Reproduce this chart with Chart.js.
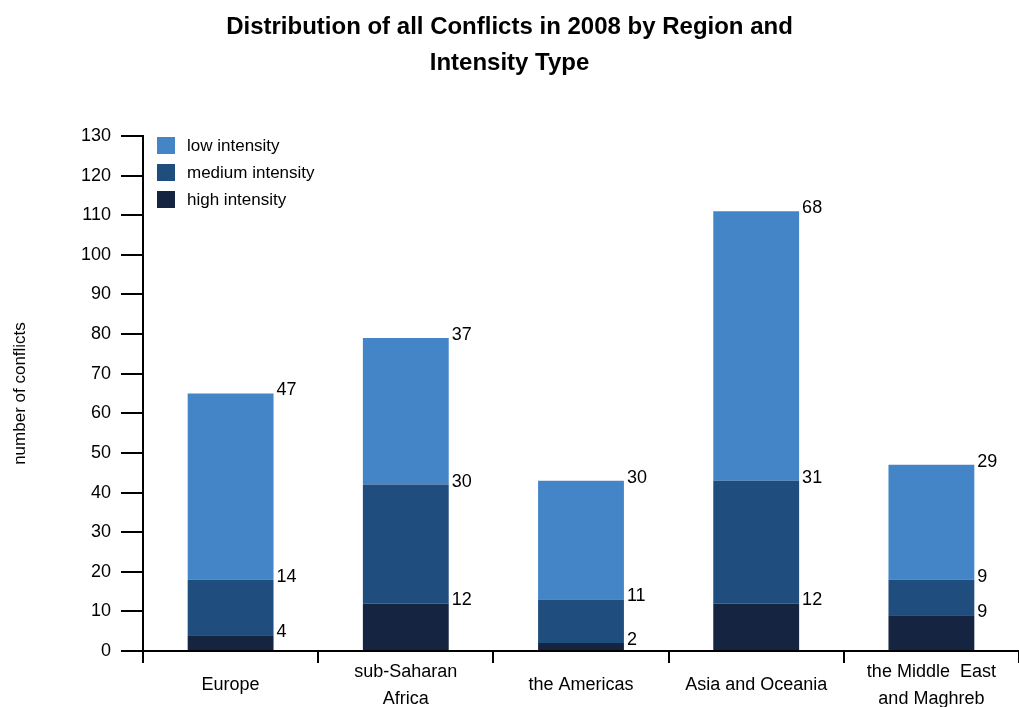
<!DOCTYPE html>
<html>
<head>
<meta charset="utf-8">
<script src="https://cdn.jsdelivr.net/npm/chart.js@4/dist/chart.umd.min.js"></script>
<style>
  html, body { margin: 0; padding: 0; background: #fff; }
  #wrap { width: 1019px; height: 707px; }
</style>
</head>
<body>
<div id="wrap"><canvas id="grafico"></canvas></div>
<script>
// datos
const regiones = [["Europe"], ["sub-Saharan", "Africa"], ["the Americas"], ["Asia and Oceania"], ["the Middle  East", "and Maghreb"]];
const altaIntensidad = [4, 12, 2, 12, 9];
const mediaIntensidad = [14, 30, 11, 31, 9];
const bajaIntensidad = [47, 37, 30, 68, 29];
const ticksY = [0, 10, 20, 30, 40, 50, 60, 70, 80, 90, 100, 110, 120, 130];

const fuente = "'Liberation Sans', Arial, sans-serif";

// etiquetas a la derecha de cada segmento
const etiquetas = {
  id: 'etiquetas',
  afterDatasetsDraw(chart) {
    const ctx = chart.ctx;
    ctx.save();
    ctx.fillStyle = '#000';
    ctx.font = '18px ' + fuente;
    ctx.textAlign = 'left';
    ctx.textBaseline = 'middle';
    chart.data.datasets.forEach((ds, i) => {
      chart.getDatasetMeta(i).data.forEach((bar, j) => {
        const p = bar.getProps(['x', 'y', 'width'], true);
        ctx.fillText(ds.data[j], p.x + p.width / 2 + 3, p.y - 3);
      });
    });
    ctx.restore();
  }
};

// leyenda dentro del area
const leyenda = {
  id: 'leyenda',
  afterDraw(chart) {
    const ctx = chart.ctx;
    const orden = [2, 1, 0];
    ctx.save();
    ctx.font = '17px ' + fuente;
    ctx.textBaseline = 'middle';
    orden.forEach((k, n) => {
      const ds = chart.data.datasets[k];
      const y = 137 + n * 27;
      ctx.fillStyle = ds.backgroundColor;
      ctx.fillRect(157, y, 18, 17);
      ctx.fillStyle = '#000';
      ctx.fillText(ds.label, 187, y + 9);
    });
    ctx.restore();
  }
};

new Chart(document.getElementById('grafico'), {
  type: 'bar',
  data: {
    labels: regiones,
    datasets: [
      { label: 'high intensity', data: altaIntensidad, backgroundColor: '#152441' },
      { label: 'medium intensity', data: mediaIntensidad, backgroundColor: '#1f4d7e' },
      { label: 'low intensity', data: bajaIntensidad, backgroundColor: '#4385c6' }
    ]
  },
  options: {
    responsive: true,
    maintainAspectRatio: false,
    animation: false,
    layout: { padding: { top: 0, right: 0, left: 0, bottom: 0 } },
    datasets: { bar: { categoryPercentage: 0.49, barPercentage: 1 } },
    plugins: {
      legend: { display: false },
      tooltip: { enabled: false },
      title: {
        display: true,
        text: ['Distribution of all Conflicts in 2008 by Region and', 'Intensity Type'],
        color: '#000',
        font: { family: fuente, size: 24, weight: 'bold', lineHeight: 1.5 },
        padding: { top: 9, bottom: 55 }
      }
    },
    scales: {
      x: {
        stacked: true,
        afterFit(scale) { scale.height = 56; },
        border: { color: '#000', width: 2 },
        grid: { display: true, drawOnChartArea: false, drawTicks: true, tickLength: 12, color: '#000', lineWidth: 2 },
        ticks: {
          color: '#000',
          font: { family: fuente, size: 18, lineHeight: 0.75 },
          maxRotation: 0,
          padding: 2,
          // una linea: centrada entre las dos lineas de las etiquetas dobles
          callback: (v, i) => regiones[i].length === 1 ? ['', regiones[i][0]] : [regiones[i][0], '', regiones[i][1]]
        }
      },
      y: {
        stacked: true,
        min: 0,
        max: 130,
        afterBuildTicks(scale) { scale.ticks = ticksY.map(v => ({ value: v })); },
        afterFit(scale) { scale.width = 143; },
        border: { color: '#000', width: 2 },
        grid: { display: true, drawOnChartArea: false, drawTicks: true, tickLength: 22, color: '#000', lineWidth: 2 },
        ticks: { color: '#000', font: { family: fuente, size: 18 }, padding: 10 },
        title: { display: true, text: 'number of conflicts', color: '#000', font: { family: fuente, size: 17 }, padding: { top: 10, bottom: 0 } }
      }
    }
  },
  plugins: [etiquetas, leyenda]
});
</script>
</body>
</html>
